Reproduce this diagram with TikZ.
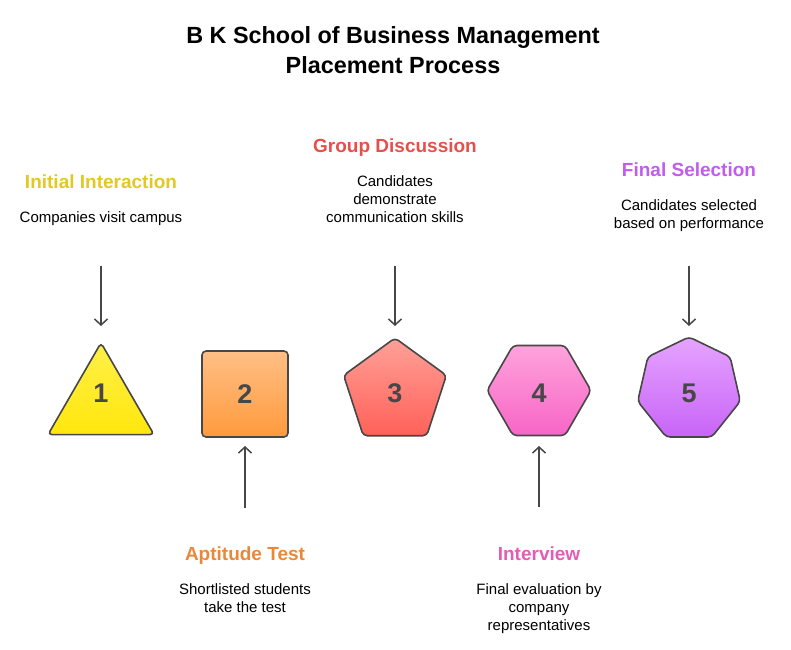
\documentclass[tikz,border=0pt]{standalone}
\usepackage{fontspec}
\setmainfont{Liberation Sans}
\usetikzlibrary{shapes.geometric}
\usetikzlibrary{positioning}
\usetikzlibrary{arrows.meta}

\definecolor{yellowtop}{HTML}{FFF04A}
\definecolor{yellowbot}{HTML}{FFE70C}
\definecolor{yellowtxt}{HTML}{E2C81F}
\definecolor{orangetop}{HTML}{FFBF85}
\definecolor{orangebot}{HTML}{FF9A3D}
\definecolor{orangetxt}{HTML}{E8893A}
\definecolor{redtop}{HTML}{FFA198}
\definecolor{redbot}{HTML}{FF6159}
\definecolor{redtxt}{HTML}{E5504B}
\definecolor{pinktop}{HTML}{FFA3DC}
\definecolor{pinkbot}{HTML}{F765C6}
\definecolor{pinktxt}{HTML}{E35DB6}
\definecolor{purpletop}{HTML}{E6A4FF}
\definecolor{purplebot}{HTML}{C864F7}
\definecolor{purpletxt}{HTML}{C15CEF}
\definecolor{edgegray}{HTML}{474747}

\tikzset{
	stage/.style = {regular polygon, draw = edgegray, line width = 1.6pt, inner sep = 0pt, rounded corners = 4pt},
	num/.style = {font = \fontsize{27}{30}\selectfont\bfseries, text = edgegray},
	head/.style = {font = \fontsize{19}{22}\selectfont\bfseries, inner sep = 0pt, text height = 14pt, text depth = 4pt},
	desc/.style = {font = \fontsize{15}{18}\selectfont, align = center, inner sep = 0pt, below = 19pt of #1},
	arr/.style = {-{Straight Barb[length = 6pt, width = 13pt]}, draw = edgegray, line width = 1.5pt}
}

\begin{document}
\begin{tikzpicture}[x = 1pt, y = -1pt]
			\useasboundingbox (0,0) rectangle (791,649);
			\node[align = center, font = \fontsize{23.4}{30}\selectfont\bfseries] (title) at (393,50) {B K School of Business Management \\ Placement Process};
			% shapes
			\node[stage, regular polygon sides = 3, minimum size = 122.4pt, top color = yellowtop, bottom color = yellowbot] (s1) at (101,404) {};
			\node[num] (n1) at (101,393) {1};
			\node[stage, regular polygon sides = 4, minimum size = 121.6pt, top color = orangetop, bottom color = orangebot] (s2) at (245,394) {};
			\node[num] (n2) at (245,394) {2};
			\node[stage, regular polygon sides = 5, minimum size = 108pt, top color = redtop, bottom color = redbot] (s3) at (395,392) {};
			\node[num] (n3) at (395,393) {3};
			\node[stage, regular polygon sides = 6, minimum size = 104pt, top color = pinktop, bottom color = pinkbot] (s4) at (539,390.5) {};
			\node[num] (n4) at (539,393) {4};
			\node[stage, regular polygon sides = 7, minimum size = 105.2pt, top color = purpletop, bottom color = purplebot] (s5) at (689,389.6) {};
			\node[num] (n5) at (689,393) {5};
			% labels above
			\node[head, text = yellowtxt] (h1) at (101,183) {Initial Interaction};
			\node[desc = h1] (d1) {Companies visit campus};
			\node[head, text = redtxt] (h3) at (395,147) {Group Discussion};
			\node[desc = h3] (d3) {Candidates \\ demonstrate \\ communication skills};
			\node[head, text = purpletxt] (h5) at (689,171) {Final Selection};
			\node[desc = h5] (d5) {Candidates selected \\ based on performance};
			% labels below
			\node[head, text = orangetxt] (h2) at (245,555) {Aptitude Test};
			\node[desc = h2] (d2) {Shortlisted students \\ take the test};
			\node[head, text = pinktxt] (h4) at (539,555) {Interview};
			\node[desc = h4] (d4) {Final evaluation by \\ company \\ representatives};
			% arrows
			\coordinate (a1) at (101,266);
			\coordinate (b1) at (101,326);
			\draw[arr] (a1) -- (b1);
			\coordinate (a2) at (245,508);
			\coordinate (b2) at (245,446);
			\draw[arr] (a2) -- (b2);
			\coordinate (a3) at (395,266);
			\coordinate (b3) at (395,326);
			\draw[arr] (a3) -- (b3);
			\coordinate (a4) at (539,507);
			\coordinate (b4) at (539,446);
			\draw[arr] (a4) -- (b4);
			\coordinate (a5) at (689,266);
			\coordinate (b5) at (689,326);
			\draw[arr] (a5) -- (b5);
		\end{tikzpicture}
\end{document}
